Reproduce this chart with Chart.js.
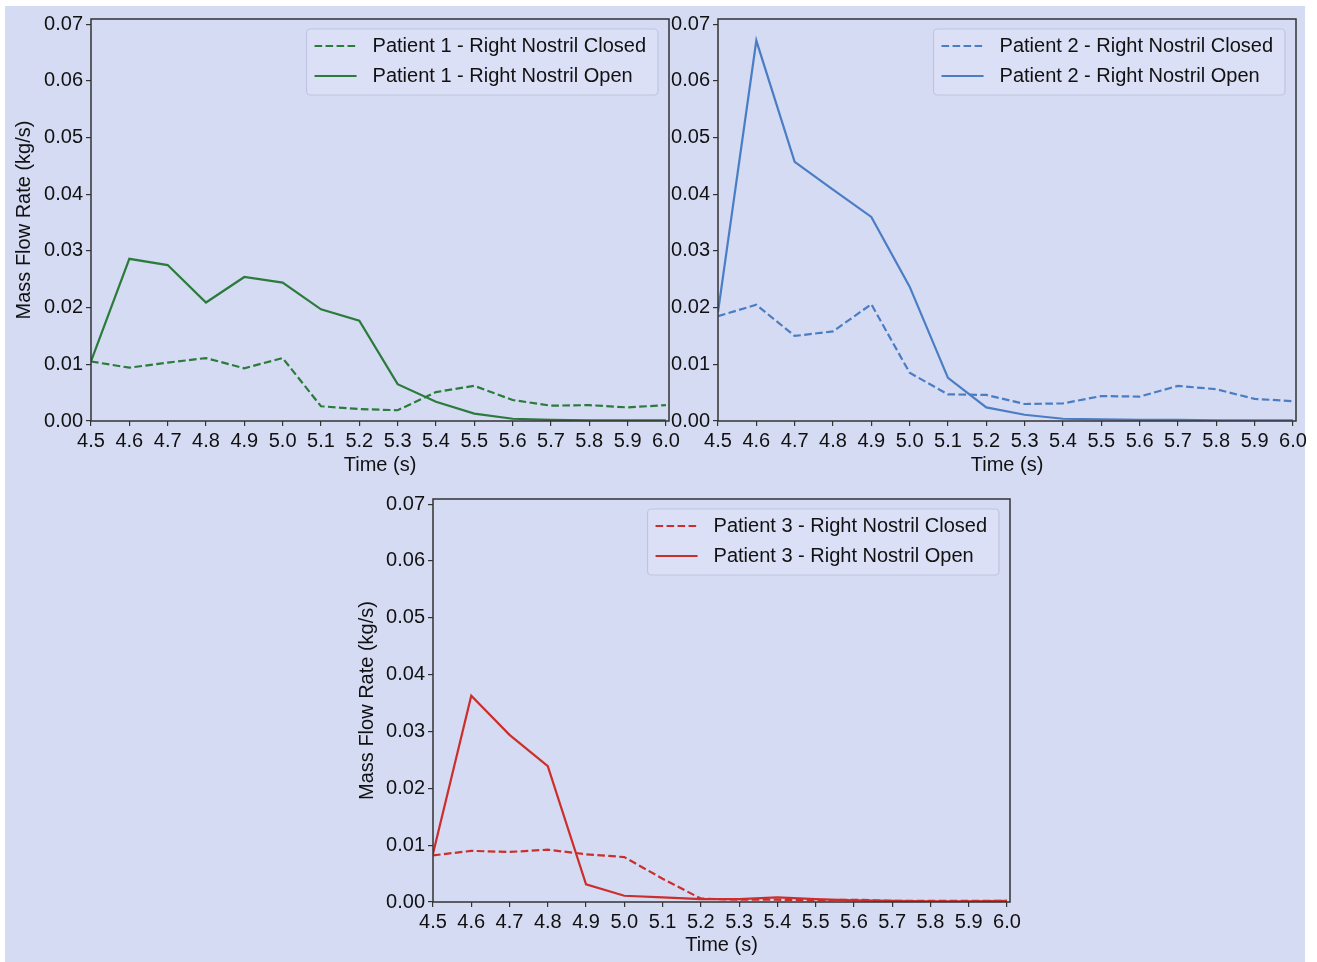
<!DOCTYPE html>
<html>
<head>
<meta charset="utf-8">
<script src="https://cdn.jsdelivr.net/npm/chart.js@4.4.1/dist/chart.umd.min.js"></script>
<style>
  html, body { margin: 0; padding: 0; background: #fff; overflow: hidden; }
  #page { position: relative; width: 1317px; height: 962px; }
  #bg { position: absolute; left: 5px; top: 6px; width: 1300px; height: 956px; background: #d5dbf3; }
  canvas { position: absolute; }
</style>
</head>
<body>
<div id="page">
  <div id="bg"></div>
  <canvas id="c1" width="700" height="480" style="left:0;top:0"></canvas>
  <canvas id="c2" width="675" height="480" style="left:640px;top:0"></canvas>
  <canvas id="c3" width="710" height="482" style="left:330px;top:480px"></canvas>
</div>
<script>
// time axis (s) and tick labels
const times = [4.5, 4.6, 4.7, 4.8, 4.9, 5.0, 5.1, 5.2, 5.3, 5.4, 5.5, 5.6, 5.7, 5.8, 5.9, 6.0];
const yTicks = [0, 0.01, 0.02, 0.03, 0.04, 0.05, 0.06, 0.07];

// mass flow rate (kg/s)
const p1Closed = [0.0105, 0.0094, 0.0103, 0.0111, 0.0093, 0.0111, 0.0026, 0.0021, 0.0019, 0.0051, 0.0062, 0.0037, 0.0027, 0.0028, 0.0024, 0.0028];
const p1Open   = [0.0105, 0.0286, 0.0275, 0.0209, 0.0254, 0.0244, 0.0197, 0.0177, 0.0065, 0.0034, 0.0013, 0.0004, 0.0002, 0.0001, 0.0001, 0.0001];
const p2Closed = [0.0185, 0.0205, 0.0150, 0.0158, 0.0206, 0.0085, 0.0047, 0.0046, 0.0030, 0.0031, 0.0044, 0.0043, 0.0062, 0.0056, 0.0039, 0.0035];
const p2Open   = [0.0192, 0.0671, 0.0457, 0.0408, 0.0360, 0.0237, 0.0076, 0.0024, 0.0011, 0.0004, 0.0003, 0.0002, 0.0002, 0.0001, 0.0001, 0.0001];
const p3Closed = [0.0082, 0.0090, 0.0088, 0.0092, 0.0084, 0.0079, 0.0041, 0.0006, 0.0004, 0.0004, 0.0003, 0.0004, 0.0002, 0.0002, 0.0002, 0.0002];
const p3Open   = [0.0085, 0.0363, 0.0294, 0.0239, 0.0031, 0.0011, 0.0008, 0.0005, 0.0005, 0.0008, 0.0005, 0.0003, 0.0002, 0.0001, 0.0001, 0.0002];

const FONT = '"Liberation Sans", Arial, sans-serif';
const INK = '#111';
Chart.defaults.font.family = FONT;
Chart.defaults.font.size = 20;
Chart.defaults.color = INK;

// box around the whole plot area, like matplotlib spines
const frame = {
  id: 'frame',
  afterDatasetsDraw(chart) {
    const { ctx, chartArea: a } = chart;
    ctx.save();
    ctx.strokeStyle = '#333';
    ctx.lineWidth = 1.5;
    ctx.strokeRect(a.left, a.top, a.right - a.left, a.bottom - a.top);
    ctx.restore();
  }
};

// legend drawn inside the plot, upper right
const boxLegend = {
  id: 'boxLegend',
  afterDraw(chart) {
    const { ctx, chartArea } = chart;
    const sets = chart.data.datasets;
    ctx.save();
    ctx.font = '20px ' + FONT;
    const textW = Math.max(...sets.map(d => ctx.measureText(d.label).width));
    const padL = 8, lineLen = 42, gap = 16, padR = 12, rowH = 30;
    const w = padL + lineLen + gap + textW + padR;
    const h = rowH * sets.length + 6;
    const x = chartArea.right - 11 - w;
    const y = chartArea.top + 10;
    ctx.beginPath();
    ctx.roundRect(x, y, w, h, 4);
    ctx.fillStyle = 'rgba(220,225,246,0.8)';
    ctx.fill();
    ctx.strokeStyle = '#bfc5df';
    ctx.lineWidth = 1.2;
    ctx.stroke();
    sets.forEach((d, i) => {
      const cy = y + 17 + i * rowH;
      ctx.beginPath();
      ctx.setLineDash(d.borderDash || []);
      ctx.strokeStyle = d.borderColor;
      ctx.lineWidth = d.borderWidth;
      ctx.moveTo(x + padL, cy);
      ctx.lineTo(x + padL + lineLen, cy);
      ctx.stroke();
      ctx.setLineDash([]);
      ctx.fillStyle = INK;
      ctx.textBaseline = 'middle';
      ctx.fillText(d.label, x + padL + lineLen + gap, cy);
    });
    ctx.restore();
  }
};

function series(vals) {
  return times.map((t, i) => ({ x: t, y: vals[i] }));
}

function makePanel(id, n, color, closed, open, o) {
  new Chart(document.getElementById(id), {
    type: 'line',
    data: {
      datasets: [
        { label: 'Patient ' + n + ' - Right Nostril Closed', data: series(closed), borderColor: color,
          borderWidth: 2.2, borderDash: [7.6, 3.4], pointRadius: 0, order: 1 },
        { label: 'Patient ' + n + ' - Right Nostril Open', data: series(open), borderColor: color,
          borderWidth: 2.2, pointRadius: 0, order: 0 }
      ]
    },
    options: {
      responsive: false,
      animation: false,
      layout: { padding: o.pad },
      plugins: { legend: { display: false }, tooltip: { enabled: false } },
      scales: {
        x: {
          type: 'linear', min: 4.5, max: 6.008,
          afterBuildTicks: s => { s.ticks = times.map(v => ({ value: v })); },
          afterFit: s => { s.height = o.xh; },
          border: { display: false },
          grid: { drawOnChartArea: false, drawTicks: true, tickLength: 5, color: '#333', lineWidth: 1.2 },
          ticks: { padding: 3, maxRotation: 0, autoSkip: false, callback: v => v.toFixed(1) },
          title: { display: true, text: 'Time (s)', padding: { top: 0, bottom: o.xtPad } }
        },
        y: {
          min: 0, max: 0.0709,
          afterBuildTicks: s => { s.ticks = yTicks.map(v => ({ value: v })); },
          afterFit: s => { s.width = o.yw; },
          border: { display: false },
          grid: { drawOnChartArea: false, drawTicks: true, tickLength: 5, color: '#333', lineWidth: 1.2 },
          ticks: { padding: 3, callback: v => v.toFixed(2) },
          title: { display: o.ytitle, text: 'Mass Flow Rate (kg/s)', padding: { top: o.ytPad, bottom: 0 } }
        }
      }
    },
    plugins: [frame, boxLegend]
  });
}

makePanel('c1', 1, '#2b7b3b', p1Closed, p1Open,
  { pad: { left: 0, top: 19, right: 31, bottom: 0 }, xh: 59, yw: 91, ytitle: true, ytPad: 12, xtPad: 3 });
makePanel('c2', 2, '#4a7dc4', p2Closed, p2Open,
  { pad: { left: 0, top: 19, right: 19, bottom: 0 }, xh: 59, yw: 78, ytitle: false, ytPad: 0, xtPad: 3 });
makePanel('c3', 3, '#cc2f2b', p3Closed, p3Open,
  { pad: { left: 0, top: 19, right: 30, bottom: 0 }, xh: 60, yw: 103, ytitle: true, ytPad: 25, xtPad: 5 });
</script>
</body>
</html>
